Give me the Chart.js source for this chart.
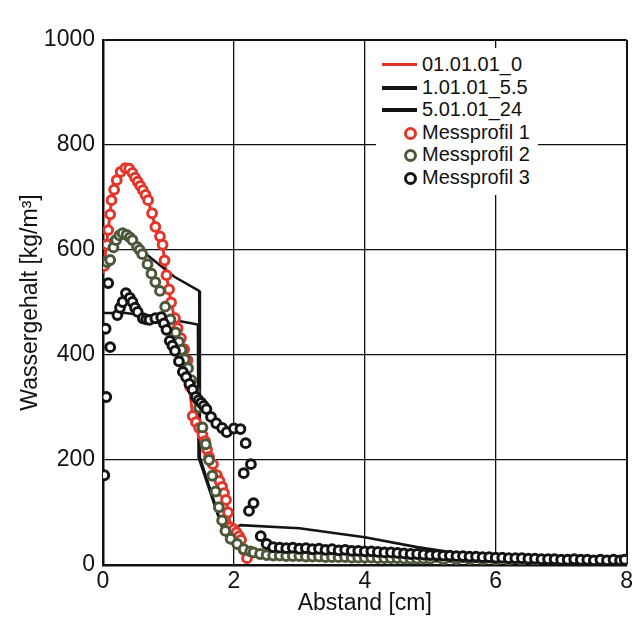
<!DOCTYPE html>
<html>
<head>
<meta charset="utf-8">
<script src="https://cdn.jsdelivr.net/npm/chart.js@4.4.1/dist/chart.umd.min.js"></script>
<style>
  html, body { margin: 0; padding: 0; background: #fff; }
  #wrap { position: relative; width: 636px; height: 643px; }
  #legend {
    position: absolute; left: 376px; top: 48px; width: 162px; height: 147px;
    background: #fff; font-family: "Liberation Sans", Arial, sans-serif; font-size: 20px; color: #111;
  }
  .row { position: absolute; left: 0; height: 23px; line-height: 23px; }
  .row span.txt { position: absolute; left: 46px; white-space: nowrap; }
  .ln { position: absolute; left: 6px; width: 35px; top: 10px; height: 3px; }
  .dot { position: absolute; left: 28px; top: 6px; width: 7px; height: 7px; border-radius: 50%; border: 3px solid; background: #fff; }
</style>
</head>
<body>
<div id="wrap">
  <canvas id="chart" width="636" height="643"></canvas>
  <div id="legend"></div>
</div>
<script>
// axis ticks
const xTickValues = [0, 2, 4, 6, 8];
const yTickValues = [0, 200, 400, 600, 800, 1000];

// simulation 01.01.01_0 (red line)
const simInitial = [
  [0.0, 555], [0.08, 638], [0.13, 695], [0.21, 733], [0.28, 750], [0.38, 757], [0.45, 747],
  [0.53, 730], [0.61, 714], [0.69, 695], [0.80, 644], [0.91, 610], [0.97, 552], [1.04, 500],
  [1.13, 451], [1.24, 410], [1.30, 360], [1.37, 284], [1.47, 261], [1.55, 238], [1.62, 206],
  [1.70, 187], [1.82, 149], [1.88, 124], [1.95, 72], [2.03, 66], [2.11, 48], [2.15, 29], [2.22, 5]
];

// simulation 1.01.01_5.5
const sim55 = [
  [0.0, 600], [0.15, 625], [0.30, 630], [0.58, 600], [1.09, 549], [1.47, 522], [1.48, 205],
  [1.85, 62], [2.0, 40], [2.3, 18], [3.0, 12], [4.0, 9], [6.0, 6], [8.0, 4]
];

// simulation 5.01.01_24
const sim24 = [
  [0.0, 480], [0.35, 480], [1.06, 467], [1.45, 458], [1.46, 205], [1.85, 60], [2.1, 76],
  [3.0, 70], [4.0, 53], [4.8, 34], [5.5, 21], [6.5, 15], [8.0, 10]
];

// Messprofil 1 (red circles)
const mess1 = [
  [0.02, 570], [0.06, 610], [0.08, 638], [0.11, 668], [0.13, 695], [0.17, 715], [0.21, 733],
  [0.27, 749], [0.34, 756], [0.40, 755], [0.45, 747], [0.49, 738], [0.53, 730], [0.57, 722],
  [0.61, 714], [0.65, 705], [0.69, 695], [0.75, 670], [0.80, 644], [0.87, 626], [0.91, 610],
  [0.94, 580], [0.97, 552], [1.01, 525], [1.04, 500], [1.10, 470], [1.14, 451], [1.19, 432],
  [1.24, 411], [1.29, 390], [1.33, 340], [1.37, 284], [1.42, 272], [1.47, 261], [1.52, 248],
  [1.56, 236], [1.59, 220], [1.62, 206], [1.68, 192], [1.74, 171], [1.78, 160], [1.82, 149],
  [1.85, 137], [1.88, 124], [1.91, 100], [1.95, 72], [2.00, 68], [2.04, 62], [2.08, 55],
  [2.11, 48], [2.15, 29], [2.20, 13]
];

// Messprofil 2 (dark green circles)
const mess2 = [
  [0.06, 577], [0.11, 581], [0.16, 605], [0.20, 619], [0.25, 628], [0.30, 632], [0.36, 629],
  [0.41, 624], [0.45, 619], [0.52, 606], [0.56, 600], [0.60, 592], [0.68, 573], [0.74, 555],
  [0.80, 539], [0.87, 522], [0.95, 492], [1.03, 468], [1.11, 443], [1.16, 425], [1.20, 410],
  [1.25, 392], [1.30, 375], [1.35, 352], [1.40, 330], [1.47, 300], [1.52, 262], [1.57, 230],
  [1.62, 200], [1.67, 170], [1.72, 140], [1.77, 110], [1.82, 85], [1.87, 65], [1.95, 50],
  [2.05, 40], [2.15, 30], [2.25, 26], [2.3, 24], [2.4, 21], [2.5, 19], [2.6, 18], [2.7, 18],
  [2.8, 17], [2.9, 17], [3.0, 17], [3.1, 16], [3.2, 16], [3.3, 16], [3.4, 15], [3.5, 15],
  [3.6, 15], [3.7, 15], [3.8, 14], [3.9, 14], [4.0, 14], [4.1, 14], [4.2, 13], [4.3, 13],
  [4.4, 13], [4.5, 13], [4.6, 12], [4.7, 12], [4.8, 12], [4.9, 12], [5.0, 12], [5.2, 11],
  [5.4, 11], [5.6, 11], [5.8, 10], [6.0, 10], [6.2, 10], [6.4, 10], [6.6, 9]
];

// Messprofil 3 (black circles)
const mess3 = [
  [0.02, 171], [0.05, 320], [0.04, 450], [0.11, 415], [0.08, 537], [0.22, 476], [0.26, 490],
  [0.30, 501], [0.35, 518], [0.41, 509], [0.45, 501], [0.49, 490], [0.53, 482], [0.61, 470],
  [0.66, 468], [0.71, 467], [0.80, 470], [0.89, 472], [0.93, 460], [0.97, 448], [1.02, 427],
  [1.06, 418], [1.10, 408], [1.16, 388], [1.22, 368], [1.27, 358], [1.32, 345], [1.37, 334],
  [1.42, 320], [1.46, 314], [1.50, 309], [1.54, 303], [1.58, 297], [1.65, 282], [1.73, 270],
  [1.82, 261], [1.89, 253], [2.00, 260], [2.10, 259], [2.18, 232], [2.26, 192], [2.15, 175],
  [2.30, 118], [2.23, 103], [2.41, 55], [2.5, 40], [2.6, 34], [2.7, 33], [2.8, 32], [2.9, 33],
  [3.0, 31], [3.1, 32], [3.2, 30], [3.3, 31], [3.4, 29], [3.5, 30], [3.6, 28], [3.7, 29],
  [3.8, 27], [3.9, 27], [4.0, 26], [4.1, 26], [4.2, 25], [4.3, 24], [4.4, 24], [4.5, 23],
  [4.6, 22], [4.7, 21], [4.8, 21], [4.9, 20], [5.0, 19], [5.1, 19], [5.2, 18], [5.3, 18],
  [5.4, 17], [5.5, 17], [5.6, 16], [5.7, 16], [5.8, 15], [5.9, 15], [6.0, 14], [6.1, 14],
  [6.2, 13], [6.3, 13], [6.4, 13], [6.5, 12], [6.6, 12], [6.7, 11], [6.8, 11], [6.9, 11],
  [7.0, 10], [7.1, 10], [7.2, 11], [7.3, 10], [7.4, 10], [7.5, 9], [7.6, 10], [7.7, 9],
  [7.8, 10], [7.9, 9], [7.97, 10]
];

const RED = '#e4352b';
const GREEN = '#4c583a';
const BLACK = '#141414';
const FONT = { family: '"Liberation Sans", Arial, sans-serif', size: 23 };

const toPts = arr => arr.map(p => ({ x: p[0], y: p[1] }));

function lineSet(label, pts, color, width, order) {
  return {
    label, data: toPts(pts), showLine: true, borderColor: color, borderWidth: width,
    pointRadius: 0, tension: 0, fill: false, order
  };
}
function dotSet(label, pts, color, order) {
  return {
    label, data: toPts(pts), showLine: false, borderColor: color, backgroundColor: '#fff',
    pointRadius: 4.4, pointBorderWidth: 3, pointStyle: 'circle', order
  };
}

const datasets = [
  lineSet('01.01.01_0', simInitial, RED, 3, 6),
  lineSet('1.01.01_5.5', sim55, BLACK, 2.6, 5),
  lineSet('5.01.01_24', sim24, BLACK, 2.6, 4),
  dotSet('Messprofil 1', mess1, RED, 3),
  dotSet('Messprofil 2', mess2, GREEN, 2),
  dotSet('Messprofil 3', mess3, BLACK, 1)
];

// legend (html, drawn inside plot area)
const legendEl = document.getElementById('legend');
datasets.forEach((ds, i) => {
  const row = document.createElement('div');
  row.className = 'row';
  row.style.top = (5 + i * 22.6) + 'px';
  const mark = document.createElement('span');
  if (ds.showLine) {
    mark.className = 'ln';
    mark.style.background = ds.borderColor;
    if (ds.borderColor !== RED) mark.style.height = '4px';
  } else {
    mark.className = 'dot';
    mark.style.borderColor = ds.borderColor;
  }
  const txt = document.createElement('span');
  txt.className = 'txt';
  txt.textContent = ds.label;
  row.appendChild(mark);
  row.appendChild(txt);
  legendEl.appendChild(row);
});

const gridWidth = ctx => (ctx.tick && (ctx.tick.value === 1000 || ctx.tick.value === 8)) ? 2 : 1.3;

new Chart(document.getElementById('chart'), {
  type: 'scatter',
  data: { datasets },
  options: {
    responsive: false,
    animation: false,
    layout: { padding: { left: 13, right: 4, top: 40, bottom: 22 } },
    plugins: { legend: { display: false }, tooltip: { enabled: false } },
    scales: {
      x: {
        type: 'linear', min: 0, max: 8,
        afterBuildTicks: s => { s.ticks = xTickValues.map(v => ({ value: v })); },
        afterFit: s => { s.height = 56; },
        ticks: { font: FONT, color: '#111', padding: 3, maxRotation: 0, callback: v => String(v) },
        grid: { color: '#111', lineWidth: gridWidth, drawTicks: false },
        border: { color: '#111', width: 2.5 },
        title: { display: true, text: 'Abstand [cm]', font: FONT, color: '#111', padding: { top: 4 } }
      },
      y: {
        type: 'linear', min: 0, max: 1000,
        afterBuildTicks: s => { s.ticks = yTickValues.map(v => ({ value: v })); },
        afterFit: s => { s.width = 90; },
        ticks: { font: FONT, color: '#111', padding: 8, callback: v => String(v) },
        grid: { color: '#111', lineWidth: gridWidth, drawTicks: false },
        border: { color: '#111', width: 2.5 },
        title: { display: true, text: 'Wassergehalt [kg/m³]', font: FONT, color: '#111', padding: { bottom: 4 } }
      }
    }
  }
});
</script>
</body>
</html>
